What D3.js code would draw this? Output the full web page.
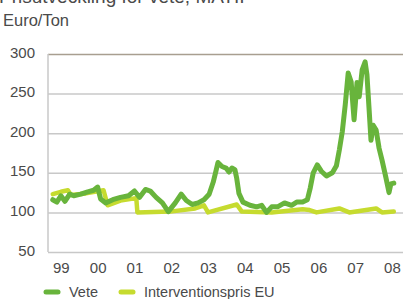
<!DOCTYPE html>
<html>
<head>
<meta charset="utf-8">
<script src="https://cdn.jsdelivr.net/npm/d3@7"></script>
<style>
  body { margin: 0; background: #fff; }
  text { font-family: "Liberation Sans", Arial, sans-serif; fill: #4a4a4a; }
</style>
</head>
<body>
<script>
// data
var veteYear = [1998.78, 1998.89, 1999.0, 1999.11, 1999.24, 1999.35, 1999.54, 1999.73, 1999.89, 2000.0,
  2000.08, 2000.22, 2000.41, 2000.62, 2000.84, 2001.0, 2001.14, 2001.3, 2001.43, 2001.59,
  2001.76, 2001.92, 2002.11, 2002.27, 2002.41, 2002.57, 2002.73, 2002.89, 2003.03, 2003.14,
  2003.22, 2003.27, 2003.38, 2003.49, 2003.57, 2003.65, 2003.73, 2003.78, 2003.84, 2003.95,
  2004.14, 2004.32, 2004.46, 2004.59, 2004.73, 2004.89, 2005.08, 2005.27, 2005.41, 2005.57,
  2005.70, 2005.78, 2005.86, 2005.97, 2006.08, 2006.22, 2006.38, 2006.49, 2006.57, 2006.65,
  2006.73, 2006.81, 2006.89, 2006.97, 2007.05, 2007.11, 2007.19, 2007.27, 2007.32, 2007.38,
  2007.43, 2007.49, 2007.57, 2007.65, 2007.73, 2007.84, 2007.92, 2007.97, 2008.05];
var vetePrice = [116, 113, 121, 114, 123, 121, 123, 126, 128, 132,
  117, 112, 116, 119, 121, 127, 119, 129, 127, 119,
  112, 101, 112, 123, 115, 110, 112, 116, 123, 138,
  153, 163, 158, 156, 151, 156, 154, 143, 124, 113,
  109, 107, 109, 100, 107, 107, 112, 109, 113, 113,
  116, 131, 150, 160, 152, 146, 150, 159, 179, 202,
  236, 276, 265, 217, 264, 246, 280, 290, 274, 229,
  191, 210, 204, 181, 166, 143, 125, 136, 137];

var intYear = [1998.78, 1999.0, 1999.19, 1999.27, 1999.68, 2000.16, 2000.27, 2000.62, 2001.05, 2001.08,
  2001.97, 2002.65, 2002.89, 2003.0, 2003.78, 2003.92, 2004.73, 2005.57, 2005.76, 2005.95,
  2006.57, 2006.84, 2007.57, 2007.73, 2008.05];
var intPrice = [123, 126, 128, 122, 124, 128, 109, 115, 118, 100,
  101, 105, 109, 100, 110, 101, 100, 104, 103, 100,
  105, 100, 105, 100, 101];

var yTicks = [50, 100, 150, 200, 250, 300];
var xTicks = [1999, 2000, 2001, 2002, 2003, 2004, 2005, 2006, 2007, 2008];
var xLabels = ["99", "00", "01", "02", "03", "04", "05", "06", "07", "08"];
var seriesNames = ["Vete", "Interventionspris EU"];
var seriesColors = ["#68b43c", "#c6db2f"];

var W = 403, H = 299;
var plot = { left: 48, right: 403, top: 54, bottom: 252 };

var svg = d3.select("body")
  .append("svg")
  .attr("width", W)
  .attr("height", H);

var x = d3.scaleLinear().domain([1998.65, 2008.3]).range([plot.left, plot.right]);
var y = d3.scaleLinear().domain([50, 300]).range([plot.bottom, plot.top]);

// title (mostly cut off at the top)
svg.append("text")
  .attr("x", -1)
  .attr("y", 3)
  .style("font-size", "19px")
  .text("Prisutveckling för vete, MATIF");

svg.append("text")
  .attr("x", 3)
  .attr("y", 26)
  .style("font-size", "16.5px")
  .text("Euro/Ton");

// grid + y labels
var yAxis = svg.append("g")
  .attr("transform", "translate(" + plot.left + ",0)")
  .call(d3.axisLeft(y).tickValues(yTicks).tickSize(-(plot.right - plot.left)).tickPadding(13));
yAxis.select(".domain").remove();
yAxis.selectAll(".tick line")
  .attr("stroke", function(d) { return d == 300 ? "#a89e90" : "#c8c8c8"; })
  .attr("stroke-width", 1.5);
yAxis.selectAll(".tick text")
  .attr("dy", "0.2em")
  .style("font-size", "15px")
  .style("font-family", "Liberation Sans, Arial, sans-serif")
  .attr("fill", "#4a4a4a");

// left axis line
svg.append("line")
  .attr("x1", plot.left).attr("x2", plot.left)
  .attr("y1", y(300)).attr("y2", y(50))
  .attr("stroke", "#c8c8c8")
  .attr("stroke-width", 1.5);

// x labels
var xAxis = svg.append("g")
  .attr("transform", "translate(0," + plot.bottom + ")")
  .call(d3.axisBottom(x).tickValues(xTicks).tickSize(0).tickPadding(10)
    .tickFormat(function(d, i) { return xLabels[i]; }));
xAxis.select(".domain").remove();
xAxis.selectAll(".tick text")
  .style("font-size", "15px")
  .style("font-family", "Liberation Sans, Arial, sans-serif")
  .attr("fill", "#4a4a4a");

var line = d3.line()
  .x(function(d) { return x(d[0]); })
  .y(function(d) { return y(d[1]); });

svg.append("path")
  .datum(d3.zip(intYear, intPrice))
  .attr("fill", "none")
  .attr("stroke", seriesColors[1])
  .attr("stroke-width", 4.5)
  .attr("stroke-linejoin", "round")
  .attr("stroke-linecap", "round")
  .attr("d", line);

svg.append("path")
  .datum(d3.zip(veteYear, vetePrice))
  .attr("fill", "none")
  .attr("stroke", seriesColors[0])
  .attr("stroke-width", 5)
  .attr("stroke-linejoin", "round")
  .attr("stroke-linecap", "round")
  .attr("d", line);

// legend
var legX = [46, 121];
var legend = svg.selectAll(".leg")
  .data(seriesNames)
  .enter().append("g")
  .attr("class", "leg")
  .attr("transform", function(d, i) { return "translate(" + legX[i] + ",292)"; });
legend.append("line")
  .attr("x1", 0).attr("x2", 12)
  .attr("stroke", function(d, i) { return seriesColors[i]; })
  .attr("stroke-width", 5)
  .attr("stroke-linecap", "round");
legend.append("text")
  .attr("x", 23)
  .attr("y", 5)
  .style("font-size", "14.5px")
  .text(function(d) { return d; });
</script>
</body>
</html>
